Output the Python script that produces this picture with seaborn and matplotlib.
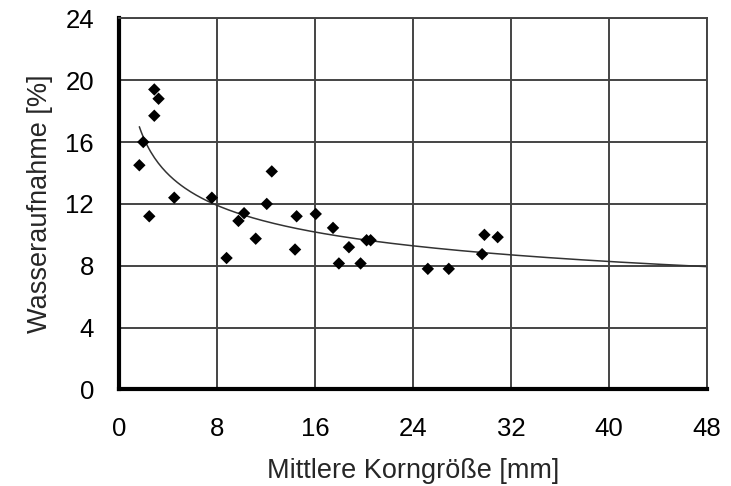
import numpy as np
import pandas as pd
import matplotlib
matplotlib.use("Agg")
import matplotlib.pyplot as plt
import seaborn as sns

# Data
korngroesse = [2.88, 3.23, 2.88, 1.98, 1.66, 4.51, 2.47, 7.58, 12.47, 12.06,
               10.21, 9.75, 14.50, 11.16, 14.37, 8.78, 16.06, 17.47, 18.77,
               20.21, 20.54, 17.95, 19.72, 25.21, 26.92, 29.83, 30.91, 29.64]
wasseraufnahme = [19.4, 18.8, 17.7, 16.0, 14.5, 12.4, 11.2, 12.4, 14.1, 12.0,
                  11.4, 10.9, 11.2, 9.75, 9.05, 8.5, 11.35, 10.45, 9.2,
                  9.65, 9.65, 8.15, 8.15, 7.8, 7.8, 10.0, 9.85, 8.75]
x_ticks = [0, 8, 16, 24, 32, 40, 48]
y_ticks = [0, 4, 8, 12, 16, 20, 24]

# power trendline y = a * x^b, coefficients
trend_a = 19.05
trend_b = -0.226
trend_range = [1.66, 48]

df = pd.DataFrame({"x": korngroesse, "y": wasseraufnahme})

sns.set_style("white")
plt.rcParams["font.family"] = ["Liberation Sans", "DejaVu Sans"]

fig = plt.figure(figsize=(7.31, 4.86), dpi=100)
ax = fig.add_axes([0.1628, 0.1986, 0.8044, 0.7637])

xt = np.linspace(trend_range[0], trend_range[1], 300)
yt = trend_a * xt ** trend_b
sns.lineplot(x=xt, y=yt, ax=ax, color="#333333", linewidth=1.1, zorder=2)

sns.scatterplot(data=df, x="x", y="y", ax=ax, marker="D", s=40,
                color="black", edgecolor="none", zorder=3)

ax.set_xlim(0, 48)
ax.set_ylim(0, 24)
ax.set_xticks(x_ticks)
ax.set_yticks(y_ticks)
ax.set_xticklabels([str(t) for t in x_ticks])
ax.set_yticklabels([str(t) for t in y_ticks])
ax.grid(True, color="#444444", linewidth=1.4, zorder=0)
ax.set_axisbelow(True)
ax.tick_params(axis="both", length=0, labelsize=18.5, colors="black")
ax.tick_params(axis="x", pad=20)
ax.tick_params(axis="y", pad=18)

for side in ["left", "bottom"]:
    ax.spines[side].set_visible(True)
    ax.spines[side].set_color("black")
    ax.spines[side].set_linewidth(3)
for side in ["top", "right"]:
    ax.spines[side].set_visible(True)
    ax.spines[side].set_color("#444444")
    ax.spines[side].set_linewidth(1.4)

ax.set_xlabel("Mittlere Korngröße [mm]", fontsize=19.5, labelpad=12)
ax.set_ylabel("Wasseraufnahme [%]", fontsize=19.5, labelpad=9)

fig.savefig("out.png", dpi=100)
